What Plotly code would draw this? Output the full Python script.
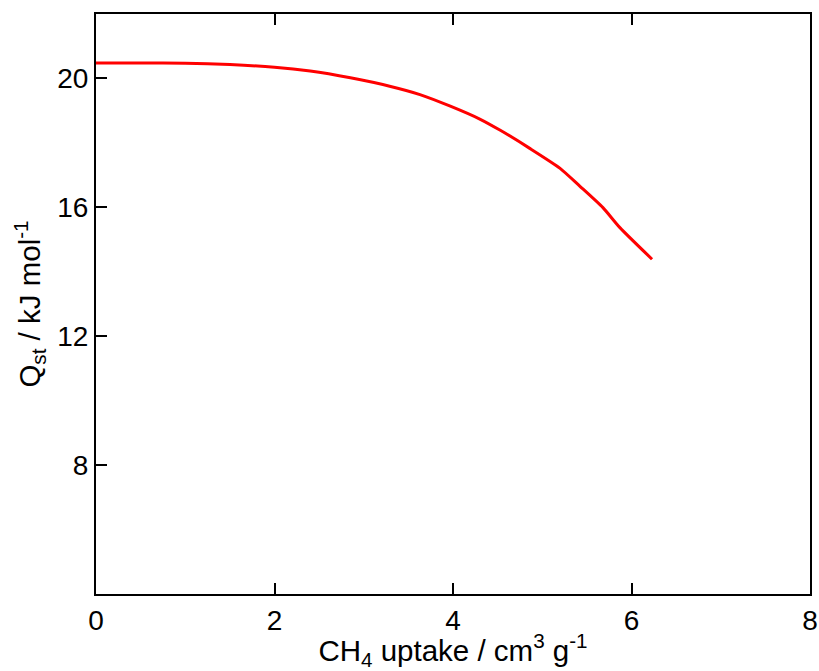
import plotly.graph_objects as go

# Isosteric heat of adsorption for CH4 versus uptake
uptake = [0.0, 0.5, 1.0, 1.5, 2.0, 2.4, 2.85, 3.29, 3.63, 3.97, 4.30, 4.53,
          4.86, 5.20, 5.42, 5.68, 5.87, 6.23]
qst = [20.48, 20.48, 20.47, 20.43, 20.35, 20.23, 20.02, 19.76, 19.50, 19.14,
       18.74, 18.39, 17.83, 17.21, 16.66, 15.99, 15.37, 14.39]

x_ticks = [0, 2, 4, 6, 8]
y_ticks = [8, 12, 16, 20]

FONT = "Liberation Sans, Arial, sans-serif"

fig = go.Figure()
fig.add_trace(go.Scatter(
    x=uptake, y=qst, mode="lines",
    line=dict(color="#ff0000", width=3, shape="spline", smoothing=0.6),
    showlegend=False,
))

fig.update_layout(
    width=819, height=671,
    margin=dict(l=96, r=9, t=14, b=77),
    paper_bgcolor="white", plot_bgcolor="white",
    font=dict(family=FONT, size=28, color="black"),
)
fig.update_xaxes(
    range=[0, 8], tickvals=x_ticks, ticktext=[str(v) for v in x_ticks],
    showgrid=False, zeroline=False, automargin=False,
    showline=True, linecolor="black", linewidth=2, mirror="ticks",
    ticks="inside", ticklen=11, tickwidth=2, tickcolor="black",
    title=dict(text="CH<sub>4</sub> uptake / cm<sup>3</sup> g<sup>-1</sup>",
               font=dict(size=29.5), standoff=0),
)
fig.update_yaxes(
    range=[4, 22], tickvals=y_ticks, ticktext=[str(v) for v in y_ticks],
    showgrid=False, zeroline=False, automargin=False,
    showline=True, linecolor="black", linewidth=2, mirror=True,
    ticks="inside", ticklen=11, tickwidth=2, tickcolor="black",
    title=dict(text="Q<sub>st</sub> / kJ mol<sup>-1</sup>",
               font=dict(size=29.5), standoff=8),
)

fig.write_html("out.html")
